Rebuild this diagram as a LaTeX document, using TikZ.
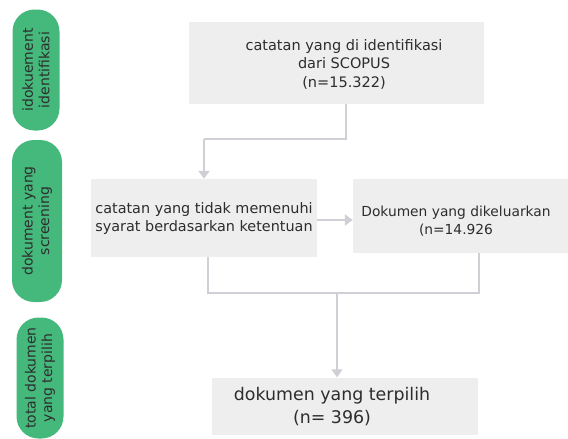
\documentclass[tikz,border=0pt]{standalone}
\usepackage{fontspec}
\setmainfont{DejaVu Sans}
\usetikzlibrary{arrows.meta,calc}
\definecolor{pillgreen}{RGB}{69,184,123}
\definecolor{boxgray}{RGB}{238,238,238}
\definecolor{conngray}{RGB}{208,207,214}
\definecolor{txtgray}{RGB}{45,45,45}
\tikzset{
  box/.style={draw=none,fill=boxgray,rectangle,inner sep=0pt},
  pill/.style={draw=none,fill=pillgreen,rectangle,inner sep=0pt,rounded corners=22pt},
  pilltext/.style={rotate=90,align=center,text=txtgray,font=\fontsize{14}{16.5}\selectfont},
  boxtext/.style={align=center,text=txtgray,inner sep=0pt},
  conn/.style={draw=conngray,line width=2.5pt},
  arr/.style={conn,-{Triangle[width=11pt,length=8pt]}}
}
\begin{document}
\begin{tikzpicture}[x=1pt,y=-1pt]
\useasboundingbox (0,0) rectangle (568,439);
% pills
\node[pill,minimum width=47pt,minimum height=121pt] (p1) at (36,70) {};
\node[pilltext] at (p1.center) {idokuement\\identifikasi};
\node[pill,minimum width=50pt,minimum height=162pt] (p2) at (37,221) {};
\node[pilltext] at (p2.center) {dokument yang\\screening};
\node[pill,minimum width=47pt,minimum height=121pt] (p3) at (40,378) {};
\node[pilltext] at (p3.center) {total dokumen\\yang terpilih};
% boxes
\node[box,minimum width=295pt,minimum height=82pt] (top) at (336.5,63) {};
\node[boxtext,font=\fontsize{14.5}{18.5}\selectfont] at (344,64) {catatan yang di identifikasi\\dari SCOPUS\\(n=15.322)};
\node[box,minimum width=226pt,minimum height=78pt] (left) at (204,218) {};
\node[boxtext,font=\fontsize{14.4}{18}\selectfont] at (204,219) {catatan yang tidak memenuhi\\syarat berdasarkan ketentuan};
\node[box,minimum width=215pt,minimum height=74pt] (right) at (460.5,216) {};
\node[boxtext,font=\fontsize{13.8}{18}\selectfont] at (456,221) {Dokumen yang dikeluarkan\\(n=14.926};
\node[box,minimum width=266pt,minimum height=57pt] (bot) at (345,406) {};
\node[boxtext,font=\fontsize{17.4}{23}\selectfont] at (332,406.5) {dokumen yang terpilih\\(n= 396)};
% connectors
\coordinate (c1) at (346,139);
\coordinate (c2) at (204,139);
\draw[conn] (c1 |- top.south) -- (c1) -- (c2);
\draw[arr] (c2) -- (left.north);
\draw[arr] (left.east |- 0,220) -- (right.west |- 0,220);
\coordinate (j1) at (208,293);
\coordinate (j2) at (479,293);
\coordinate (j3) at (337,293);
\draw[conn] (j1 |- left.south) -- (j1) -- (j2) -- (j2 |- right.south);
\draw[arr] (j3) -- (j3 |- bot.north);
\end{tikzpicture}
\end{document}
